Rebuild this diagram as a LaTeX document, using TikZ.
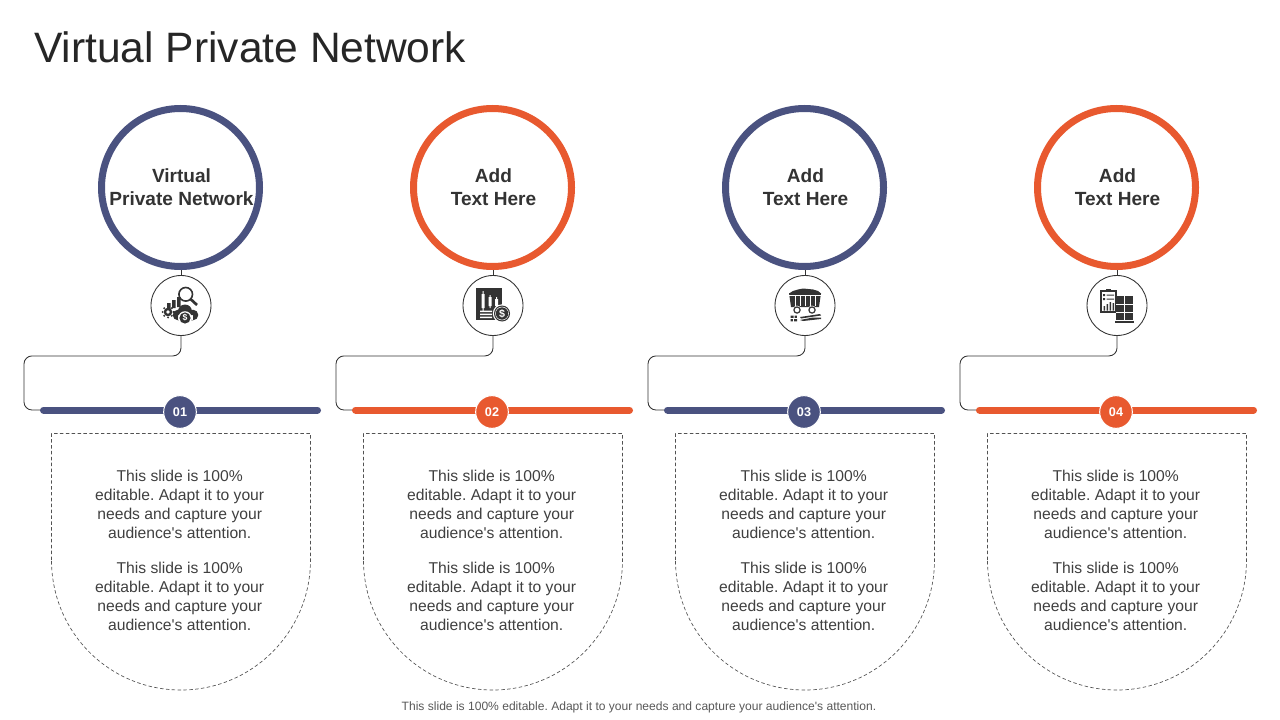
\documentclass[tikz,border=0pt]{standalone}
\usepackage{fontspec}
\setmainfont{Liberation Sans}[Ligatures=TeXOff]
\frenchspacing
\usetikzlibrary{calc}
\definecolor{navy}{HTML}{4A5280}
\definecolor{orangeR}{HTML}{E8592F}
\definecolor{ink}{HTML}{333333}
\definecolor{bodyink}{HTML}{404040}
\definecolor{titleink}{HTML}{262626}
\definecolor{footink}{HTML}{595959}
\tikzset{
  ringnode/.style={circle,draw=#1,line width=5.25pt,fill=white,minimum size=118.5pt,inner sep=0pt},
  headtext/.style={align=center,inner sep=0pt,font=\fontsize{14.3}{17.25}\selectfont\bfseries,text=ink},
  iconring/.style={circle,draw=ink,line width=0.65pt,fill=white,minimum size=45pt,inner sep=0pt},
  badge/.style={circle,fill=#1,draw=white,line width=0.75pt,minimum size=24.5pt,inner sep=0pt,
    text=white,font=\fontsize{9.5}{11}\selectfont\bfseries},
  barline/.style={draw=#1,line width=5.25pt,line cap=round},
  wire/.style={draw=ink,line width=0.65pt},
  card/.style={draw=ink!85,line width=0.5pt,dash pattern=on 2.6pt off 1.8pt},
  bodytext/.style={align=center,text=bodyink,font=\fontsize{11.75}{14.25}\selectfont,inner sep=0pt},
  ic/.style={fill=ink,draw=none},
  icw/.style={fill=white,draw=none},
}
\newcommand{\bodycopy}{This slide is 100\%\\editable. Adapt it to your\\needs and capture your\\audience's attention.}
% #1 id, #2 centre x, #3 colour, #4 heading, #5 number
\newcommand{\stage}[5]{
  \node[ringnode=#3] (ring#1) at ($(#2,187.5)+(0.5,0)$) {};
  \node[headtext] (head#1) at ($(#2,187.5)+(1.5,0)$) {#4};
  \node[iconring] (icon#1) at ($(#2,305.5)+(1,0)$) {};
  \draw[wire] (ring#1.south -| icon#1.north) -- (icon#1.north);
  \coordinate (barL#1) at ($(#2,410)+(-136.5,0)$);
  \coordinate (barR#1) at ($(#2,410)+(137.5,0)$);
  \coordinate (turnA#1) at ($(icon#1.south)+(0,20)$);
  \coordinate (turnB#1) at ($(#2,0)+(-156,0)$);
  \coordinate (turnC#1) at ($(#2,410)+(-156,0)$);
  \draw[wire,rounded corners=6pt] (icon#1.south) -- (turnA#1) -- (turnA#1 -| turnB#1) -- (turnC#1) -- (barL#1);
  \draw[barline=#3] (barL#1) -- (barR#1);
  \node[badge=#3] (badge#1) at (#2,412) {#5};
  \draw[card] ($(#2,560)+(-128.5,0)$) -- ($(#2,433.5)+(-128.5,0)$) -- ($(#2,433.5)+(130.5,0)$) -- ($(#2,560)+(130.5,0)$)
     .. controls ($(#2,560)+(130.5,72)$) and ($(#2,690)+(72,0)$) .. ($(#2,690)+(1,0)$)
     .. controls ($(#2,690)+(-71,0)$) and ($(#2,560)+(-128.5,72)$) .. ($(#2,560)+(-128.5,0)$);
  \node[bodytext] (bodyA#1) at ($(#2,504.5)+(-0.3,0)$) {\bodycopy};
  \node[bodytext] (bodyB#1) at ($(#2,596.5)+(-0.3,0)$) {\bodycopy};
}
\begin{document}
\begin{tikzpicture}[x=0.75pt,y=-0.75pt]
\useasboundingbox (0,0) rectangle (1280,720);
\fill[white] (0,0) rectangle (1280,720);
\node[anchor=west,inner sep=0pt,text=titleink,font=\fontsize{31.9}{36}\selectfont] (title) at (34,47.5) {Virtual Private Network};

\stage{1}{180}{navy}{Virtual\\Private Network}{01}
\stage{2}{492}{orangeR}{Add\\Text Here}{02}
\stage{3}{804}{navy}{Add\\Text Here}{03}
\stage{4}{1116}{orangeR}{Add\\Text Here}{04}

% icon 1: analytics cloud
\draw[ink,line width=1.2pt] (185.7,294.3) circle (6.8);
\draw[ink,line width=2pt] (190.5,299) -- (197,305);
\fill[ic] (167,303) rectangle (170.5,309) (172,300) rectangle (175.5,308) (177,297) rectangle (180.5,307);
\fill[ic] (178,315) circle (5.3) (185,311.5) circle (7) (193,315) circle (5.3) (178,315) rectangle (193,320.3);
\fill[ic] (168,312) circle (4.3);
\foreach \ga in {0,45,...,315}{\fill[ic] (168,312) ++(\ga:5.4) circle (1.1);}
\fill[icw] (168,312) circle (1.9);
\fill[icw] (185,318) circle (6.8);
\fill[ic] (185,318) circle (5.6);
\node[inner sep=0pt,text=white,font=\fontsize{6.5}{6.5}\selectfont\bfseries] (dollarA) at (185,318) {\$};

% icon 2: candlestick chart with coin
\fill[ic] (476,288) -- (502,288) -- (502,320) -- (476,320) -- cycle;
\fill[icw] (481.5,294) rectangle (484.5,308) (482.5,291) rectangle (483.5,311);
\fill[icw] (488.5,297) rectangle (491.5,306) (489.5,295) rectangle (490.5,308);
\fill[icw] (495,299) rectangle (498,306) (496,297) rectangle (497,308);
\fill[icw] (480,310.5) rectangle (492,312) (480,313.5) rectangle (492,315) (480,316.5) rectangle (492,318);
\fill[icw] (502,313.5) circle (9.2);
\fill[ic] (502,313.5) circle (8);
\fill[icw] (502,313.5) circle (6.8);
\fill[ic] (502,313.5) circle (6.2);
\node[inner sep=0pt,text=white,font=\fontsize{8}{8}\selectfont\bfseries] (dollarB) at (502,313.5) {\$};

% icon 3: coal wagon
\fill[ic] (789,293) -- (821,293) -- (819,307) -- (791,307) -- cycle;
\fill[ic] (789,293.5) -- (793,291) -- (798,289.5) -- (803,288.5) -- (808,289) -- (813,289.5) -- (818,291) -- (821,293.5) -- cycle;
\foreach \vx in {795,800,805,810,815}{\fill[icw] (\vx,296) rectangle ++(0.5,10);}
\fill[icw] (789,294.6) rectangle (821,295.2);
\fill[icw] (797,310) circle (4.4) (812,310) circle (4.4);
\draw[ink,line width=0.9pt] (797,310) circle (3.1) (812,310) circle (3.1);
\fill[ic] (790.5,315.5) rectangle ++(3,2.4) (794.5,315.5) rectangle ++(2.4,2.4) (790.5,319) rectangle ++(2.4,2.4) (794,319) rectangle ++(3,2.4);
\fill[ic] (800,317) -- (820,314) -- (821,315.5) -- (801,318.5) -- cycle;
\fill[ic] (800,320) -- (813,317.5) -- (821,317.5) -- (821,319) -- (803,321) -- cycle;

% icon 4: clipboard and crates
\draw[ink,line width=0.8pt,fill=white] (1101,291) rectangle (1116,312);
\fill[ic] (1106,288.5) rectangle (1111,291.5);
\fill[ic] (1103,294) rectangle ++(2.2,2.2) (1103,298) rectangle ++(2.2,2.2) (1106.5,294.5) rectangle ++(7.5,1) (1106.5,298.5) rectangle ++(7.5,1);
\fill[ic] (1103.5,306) rectangle ++(1.6,4.5) (1106.5,304) rectangle ++(1.6,6.5) (1109.5,302) rectangle ++(1.6,8.5) (1112.5,303) rectangle ++(1.6,7.5);
\fill[ic] (1116,296) rectangle (1133,320);
\foreach \cy in {304,312}{\fill[icw] (1116,\cy) rectangle ++(17,0.7);}
\fill[icw] (1124.2,296) rectangle ++(0.7,24);
\fill[ic] (1115,320.5) rectangle (1134,322.5);

\node[inner sep=0pt,text=footink,font=\fontsize{9.05}{11}\selectfont] (foot) at (639,707) {This slide is 100\% editable. Adapt it to your needs and capture your audience's attention.};
\end{tikzpicture}
\end{document}
